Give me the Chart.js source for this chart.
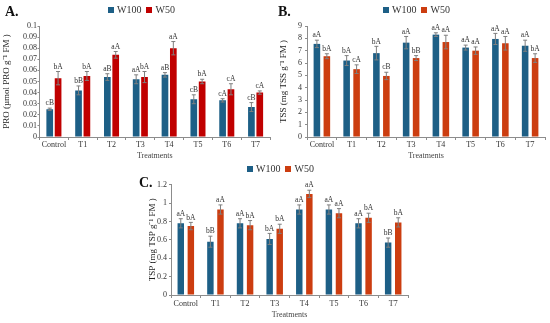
<!DOCTYPE html>
<html>
<head>
<meta charset="utf-8">
<script src="https://cdn.jsdelivr.net/npm/chart.js@4.4.1/dist/chart.umd.min.js"></script>
<style>
    body { margin: 0; background: #fff; }
    #wrap { position: relative; width: 550px; height: 323px; overflow: hidden; font-family: 'Liberation Serif', 'Times New Roman', serif; }
    canvas { position: absolute; }
    .panel-tag { position: absolute; font-size: 14px; font-weight: bold; line-height: 16px; color: #111; }
    .legend { position: absolute; display: flex; align-items: center; font-size: 10px; line-height: 11px; color: #333; white-space: nowrap; }
    .legend .box { width: 6px; height: 6px; margin-right: 3px; }
    .legend .txt { margin-right: 5px; }
</style>
</head>
<body>
<div id="wrap">
    <canvas id="chartA" width="275" height="165" style="left:0;top:0"></canvas>
    <canvas id="chartB" width="275" height="165" style="left:275px;top:0"></canvas>
    <canvas id="chartC" width="350" height="163" style="left:100px;top:160px"></canvas>
    <div class="panel-tag" style="left:5px;top:4px">A.</div>
    <div class="panel-tag" style="left:278px;top:4px">B.</div>
    <div class="panel-tag" style="left:139px;top:175px">C.</div>
</div>
<script>
// categories and series
const treatments = ['Control', 'T1', 'T2', 'T3', 'T4', 'T5', 'T6', 'T7'];
const seriesNames = ['W100', 'W50'];

// A. proline
const proW100 = [0.025, 0.042, 0.054, 0.052, 0.056, 0.034, 0.033, 0.027];
const proW50 = [0.053, 0.055, 0.074, 0.054, 0.080, 0.050, 0.043, 0.040];
const proErrW100 = [0.001, 0.004, 0.003, 0.004, 0.002, 0.004, 0.0015, 0.004];
const proErrW50 = [0.006, 0.004, 0.003, 0.005, 0.006, 0.002, 0.005, 0.0015];
const proLetW100 = ['cB', 'bB', 'aB', 'aA', 'aB', 'cB', 'cA', 'cB'];
const proLetW50 = ['bA', 'bA', 'aA', 'bA', 'aA', 'bA', 'cA', 'cA'];

// B. total soluble sugars
const tssW100 = [7.55, 6.2, 6.8, 7.65, 8.3, 7.25, 7.95, 7.4];
const tssW50 = [6.55, 5.5, 4.95, 6.4, 7.7, 7.0, 7.6, 6.4];
const tssErrW100 = [0.3, 0.4, 0.55, 0.5, 0.15, 0.2, 0.45, 0.45];
const tssErrW50 = [0.2, 0.35, 0.3, 0.2, 0.55, 0.3, 0.55, 0.35];
const tssLetW100 = ['aA', 'bA', 'bA', 'aA', 'aA', 'aA', 'aA', 'aA'];
const tssLetW50 = ['bA', 'cA', 'cB', 'bB', 'aA', 'aA', 'aA', 'bA'];

// C. total soluble proteins
const tspW100 = [0.78, 0.58, 0.78, 0.61, 0.93, 0.93, 0.78, 0.57];
const tspW50 = [0.75, 0.93, 0.76, 0.72, 1.10, 0.89, 0.84, 0.79];
const tspErrW100 = [0.05, 0.06, 0.05, 0.06, 0.05, 0.05, 0.05, 0.05];
const tspErrW50 = [0.04, 0.05, 0.05, 0.05, 0.04, 0.05, 0.05, 0.05];
const tspLetW100 = ['aA', 'bB', 'aA', 'bA', 'aA', 'aA', 'aA', 'bB'];
const tspLetW50 = ['bA', 'aA', 'bA', 'bA', 'aA', 'aA', 'bA', 'bA'];

const FONT = "'Liberation Serif', 'Times New Roman', serif";
const AXIS = '#8c8c8c';
const BLUE = '#1d5f86';
const RED_A = '#c00000';
const RED_BC = '#cc3d10';

// whiskers + significance letters on top of each bar
const errorBarPlugin = {
    id: 'errorBars',
    afterDatasetsDraw(chart) {
        const { ctx } = chart;
        const y = chart.scales.y;
        ctx.save();
        chart.data.datasets.forEach((ds, i) => {
            chart.getDatasetMeta(i).data.forEach((bar, j) => {
                const v = ds.data[j], e = ds.errors[j];
                const top = y.getPixelForValue(v + e);
                const bot = y.getPixelForValue(v - e);
                ctx.strokeStyle = '#7f7f7f';
                ctx.lineWidth = 1;
                ctx.beginPath();
                ctx.moveTo(bar.x, top); ctx.lineTo(bar.x, bot);
                ctx.moveTo(bar.x - 2, top); ctx.lineTo(bar.x + 2, top);
                ctx.moveTo(bar.x - 2, bot); ctx.lineTo(bar.x + 2, bot);
                ctx.stroke();
                ctx.fillStyle = '#333';
                ctx.font = '7.5px ' + FONT;
                ctx.textAlign = 'center';
                ctx.textBaseline = 'bottom';
                ctx.fillText(ds.letters[j], bar.x, top - 1);
            });
        });
        ctx.restore();
    }
};

function addLegend(left, top, colors) {
    const el = document.createElement('div');
    el.className = 'legend';
    el.style.left = left + 'px';
    el.style.top = top + 'px';
    el.innerHTML = seriesNames.map((n, i) =>
        `<span class="box" style="background:${colors[i]}"></span><span class="txt">${n}</span>`).join('');
    document.getElementById('wrap').appendChild(el);
}

function makeChart(id, cfg) {
    const fmt = v => String(parseFloat(Number(v).toFixed(3)));
    return new Chart(document.getElementById(id), {
        type: 'bar',
        data: {
            labels: treatments,
            datasets: [
                { label: seriesNames[0], data: cfg.w100, errors: cfg.errW100, letters: cfg.letW100, backgroundColor: BLUE },
                { label: seriesNames[1], data: cfg.w50, errors: cfg.errW50, letters: cfg.letW50, backgroundColor: cfg.red }
            ]
        },
        options: {
            responsive: false,
            animation: false,
            layout: { padding: cfg.pad },
            datasets: { bar: { categoryPercentage: cfg.catPct, barPercentage: cfg.barPct } },
            plugins: { legend: { display: false }, tooltip: { enabled: false } },
            scales: {
                x: {
                    afterFit: s => { s.height = cfg.xHeight; },
                    grid: { display: true, drawOnChartArea: false, tickLength: 3, color: AXIS, offset: true },
                    border: { display: true, color: AXIS },
                    ticks: { font: { family: FONT, size: 8 }, color: '#333', padding: cfg.xPad, maxRotation: 0, autoSkip: false },
                    title: { display: true, text: 'Treatments', font: { family: FONT, size: 8 }, color: '#444', padding: { top: 0, bottom: cfg.xTitlePad } }
                },
                y: {
                    min: 0,
                    max: cfg.yMax,
                    afterFit: s => { s.width = cfg.yWidth; },
                    grid: { display: true, drawOnChartArea: false, tickLength: 2, color: AXIS },
                    border: { display: true, color: AXIS },
                    ticks: { stepSize: cfg.step, autoSkip: false, callback: fmt, font: { family: FONT, size: 8 }, color: '#333', padding: cfg.yPad },
                    title: { display: true, text: cfg.yTitle, font: { family: FONT, size: 9 }, color: '#222', padding: { top: cfg.yTitlePad, bottom: 0 } }
                }
            }
        },
        plugins: [errorBarPlugin]
    });
}

makeChart('chartA', {
    w100: proW100, w50: proW50, errW100: proErrW100, errW50: proErrW50,
    letW100: proLetW100, letW50: proLetW50, red: RED_A,
    yMax: 0.1, step: 0.01, yTitle: 'PRO (µmol PRO g⁻¹ FM )',
    pad: { left: 0, right: 5, top: 26, bottom: 0 },
    yWidth: 39.5, xHeight: 28, catPct: 0.58, barPct: 0.8,
    xPad: 0.5, yPad: 0.5, xTitlePad: 4, yTitlePad: 1.6
});

makeChart('chartB', {
    w100: tssW100, w50: tssW50, errW100: tssErrW100, errW50: tssErrW50,
    letW100: tssLetW100, letW50: tssLetW50, red: RED_BC,
    yMax: 9, step: 1, yTitle: 'TSS (mg TSS g⁻¹ FM )',
    pad: { left: 0, right: 5, top: 26, bottom: 0 },
    yWidth: 32, xHeight: 28, catPct: 0.67, barPct: 0.66,
    xPad: 0.5, yPad: 3, xTitlePad: 4, yTitlePad: 3.6
});

makeChart('chartC', {
    w100: tspW100, w50: tspW50, errW100: tspErrW100, errW50: tspErrW50,
    letW100: tspLetW100, letW50: tspLetW50, red: RED_BC,
    yMax: 1.2, step: 0.2, yTitle: 'TSP (mg TSP g⁻¹ FM )',
    pad: { left: 46, right: 42, top: 24.7, bottom: 0 },
    yWidth: 25, xHeight: 28, catPct: 0.68, barPct: 0.64,
    xPad: 1.2, yPad: 2, xTitlePad: 3.2, yTitlePad: 1.6
});

addLegend(108, 4, [BLUE, RED_A]);
addLegend(383, 4, [BLUE, RED_BC]);
addLegend(247, 163, [BLUE, RED_BC]);
</script>
</body>
</html>
